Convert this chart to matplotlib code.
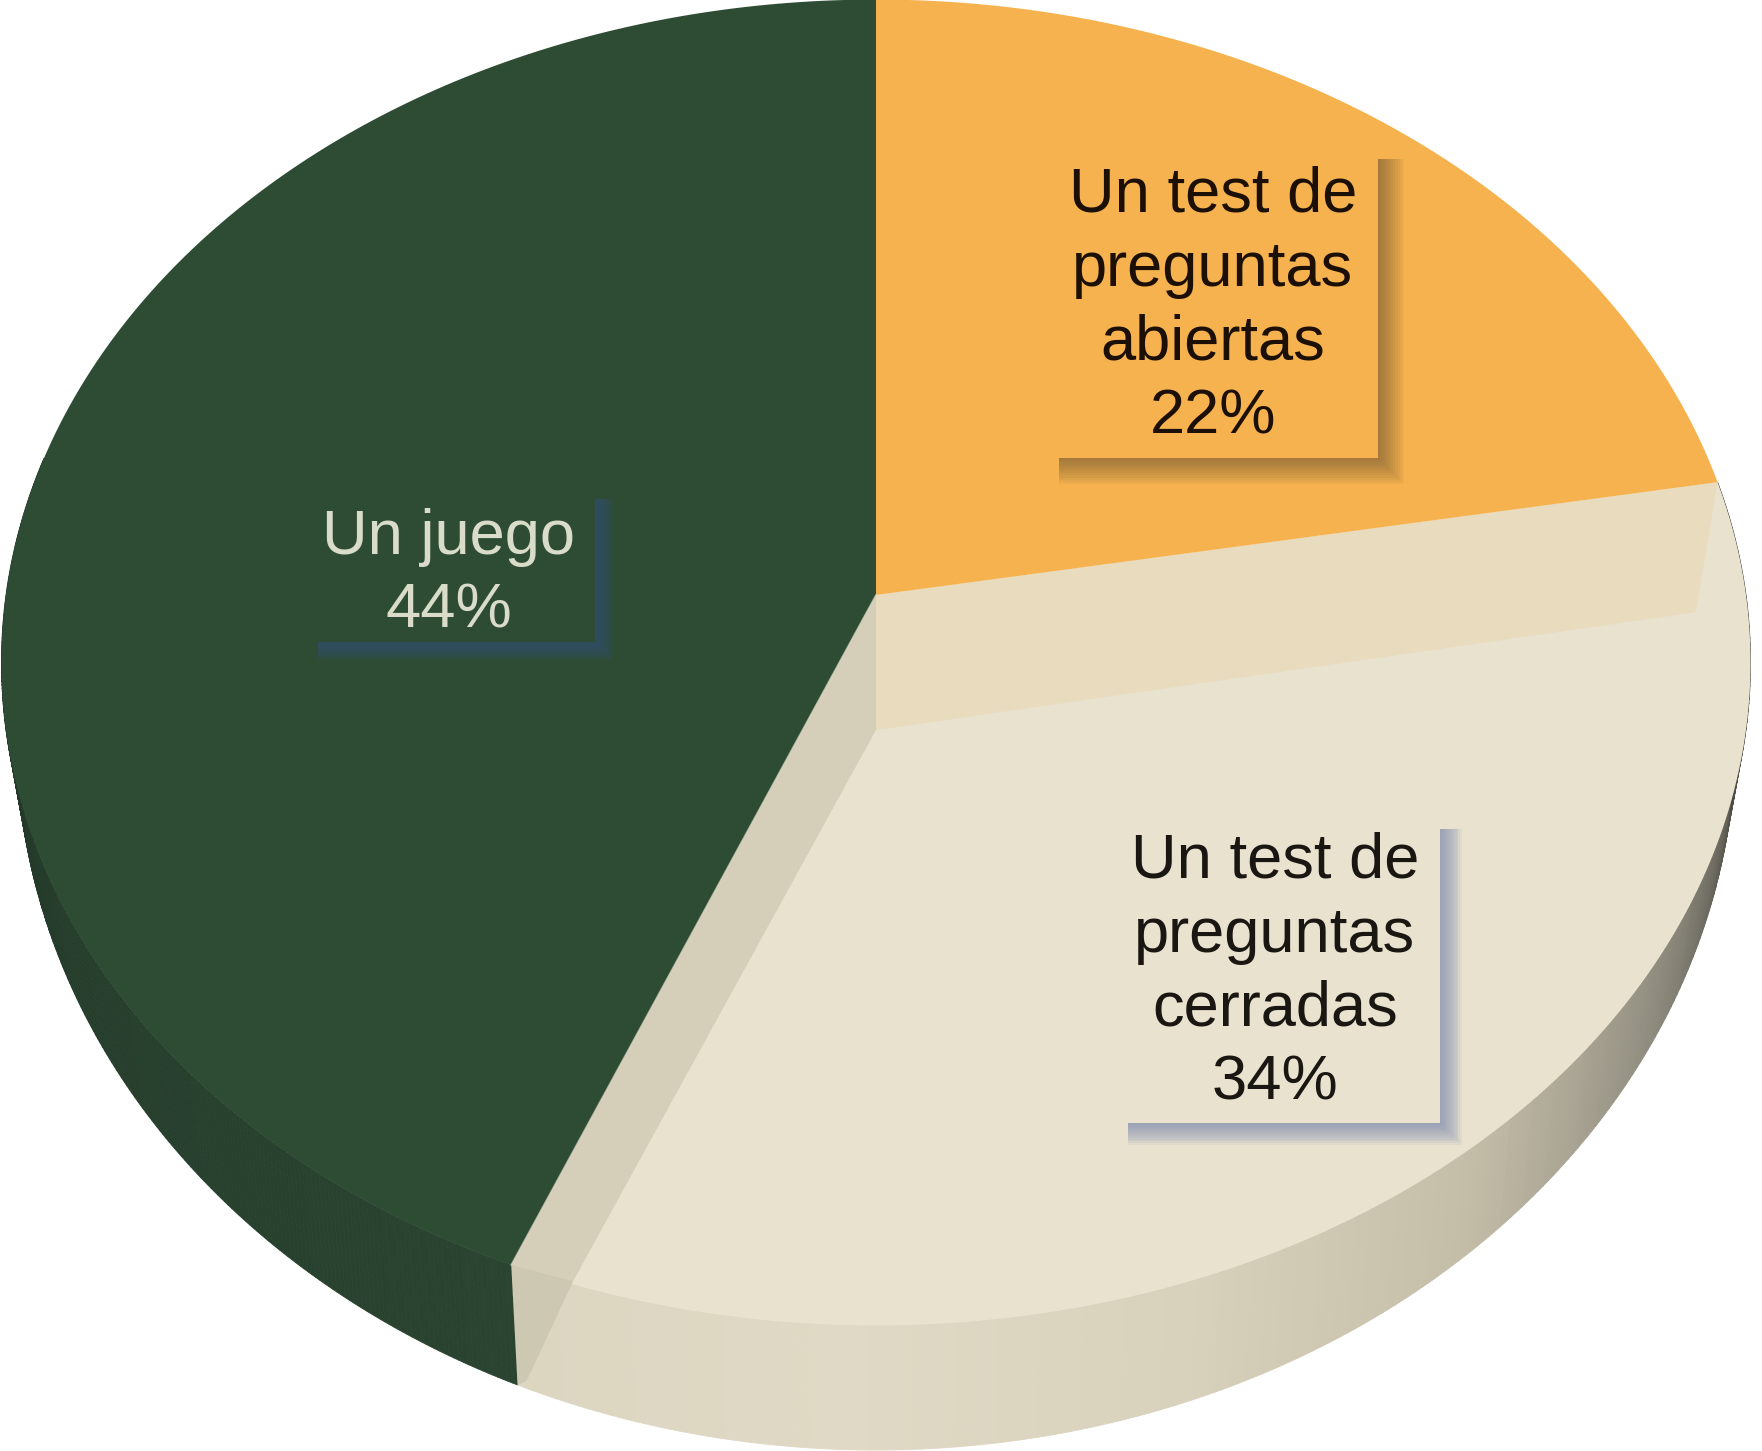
import matplotlib
matplotlib.use("Agg")
import matplotlib.pyplot as plt
import numpy as np
from matplotlib.colors import LinearSegmentedColormap
from matplotlib.patches import Rectangle

categories = ["Un test de\npreguntas\nabiertas", "Un test de\npreguntas\ncerradas", "Un juego"]
shares = [22.2, 34.0, 43.8]

colors = ["#f6b24e", "#e8e2cf", "#2e4c34"]
text_colors = ["#1c1006", "#1a1712", "#d9dcc9"]
shadow_colors = ["#5a4a30", "#7f8cb0", "#2f4f66"]
shadow_alpha = [0.055, 0.09, 0.16]
shadow_size = [26, 22, 18]

W, H = 1762, 1451
K = 0.1017  # perspective of the tilted disc
CX = 876


def top_rim(theta):
    # point on the upper face for an angle in degrees
    t = np.radians(theta)
    w = 1 + K * np.sin(t)
    return CX + 870 * np.cos(t) / w, 595 - 656 * np.sin(t) / w


def bottom_rim(theta):
    t = np.radians(theta)
    w = 1 + K * np.sin(t)
    return CX + 855 * np.cos(t) / w, 663 - 707 * np.sin(t) / w


def arc(fn, a0, a1, n=200):
    x, y = fn(np.linspace(a0, a1, n))
    return list(x), list(y)


def wall(ax, a0, a1, cmap, n=240):
    # side of the disc, in thin strips so that the colour can run along it
    edges = np.linspace(a0, a1, n + 1)
    for i in range(n):
        x0, y0 = top_rim(edges[i : i + 2])
        x1, y1 = bottom_rim(edges[i : i + 2])
        c = cmap(i / (n - 1))
        ax.fill(
            [x0[0], x0[1], x1[1], x1[0]],
            [y0[0], y0[1], y1[1], y1[0]],
            color=c,
            lw=0.6,
        )


def label_box(ax, x0, y0, x1, y1, color, shadow, alpha, size, offset):
    # soft shadow: stacked rectangles, biggest first
    for s in range(12, 0, -1):
        grow = size * s / 12
        ax.add_patch(
            Rectangle(
                (x0 + offset, y0 + 6),
                x1 - x0 - offset + grow,
                y1 - y0 - 6 + grow,
                facecolor=shadow,
                edgecolor="none",
                alpha=alpha,
            )
        )
    ax.add_patch(Rectangle((x0, y0), x1 - x0, y1 - y0, facecolor=color, edgecolor="none"))


# slice angles, clockwise from the top
stops = 90 - np.cumsum([0] + shares) * 3.6
a_orange, a_split, a_green = stops[0], stops[1], stops[2]

fig = plt.figure(figsize=(W / 100, H / 100), dpi=100, facecolor="white")
ax = fig.add_axes([0, 0, 1, 1])
ax.set_xlim(0, W)
ax.set_ylim(H, 0)
ax.axis("off")

# Side walls
beige_wall = LinearSegmentedColormap.from_list(
    "beige_wall", ["#dcd6c1", "#e0d9c5", "#d8d2bc", "#c4bea9", "#8f8b7e", "#4c4a44", "#2f2e2b"]
)
green_wall = LinearSegmentedColormap.from_list("green_wall", ["#2a4431", "#263d2c", "#1f3024"])
wall(ax, a_green, a_split, beige_wall)
wall(ax, a_green, a_green - 80, green_wall)

# Faces
x, y = arc(top_rim, a_split, a_green)
ax.fill([CX] + x, [595] + y, color=colors[1], lw=0)

right_x, right_y = top_rim(a_split)
left_x, left_y = top_rim(a_green)
low_x, low_y = bottom_rim(a_green)
drop = (CX, 730)
right_in = (right_x - 22, right_y + 130)
left_in = (left_x + 62, left_y + 16)

# Inner walls, the beige slice sits lower than the others
ax.fill([CX, right_x, right_in[0], drop[0]], [595, right_y, right_in[1], drop[1]], color="#e8dbbe", lw=0)
ax.fill([CX, left_x, left_in[0], drop[0]], [595, left_y, left_in[1], drop[1]], color="#d5cfba", lw=0)
ax.fill(
    [left_x, left_in[0], low_x + 9, low_x],
    [left_y, left_in[1], low_y - 4, low_y],
    color="#cdc8b2",
    lw=0,
)

x, y = arc(top_rim, a_orange, a_split)
ax.fill([CX] + x, [595] + y, color=colors[0], lw=0)
x, y = arc(top_rim, a_green, a_orange - 360)
ax.fill([CX] + x, [595] + y, color=colors[2], lw=0)
ax.plot([CX, left_x], [595, left_y], color="#dcd8c4", lw=1.2, alpha=0.7)

# Labels
boxes = [(1043, 153, 1378, 458), (1112, 823, 1440, 1123), (318, 493, 595, 642)]
centers = [(1213, 306), (1275, 972), (449, 574)]
offsets = [16, 16, 0]
for i, cat in enumerate(categories):
    label_box(ax, *boxes[i], colors[i], shadow_colors[i], shadow_alpha[i], shadow_size[i], offsets[i])
    ax.text(
        centers[i][0],
        centers[i][1],
        f"{cat}\n{round(shares[i])}%",
        ha="center",
        va="center",
        family="Liberation Sans",
        size=45.5,
        color=text_colors[i],
        linespacing=1.32,
    )

fig.savefig("out.png", dpi=100, facecolor="white")
